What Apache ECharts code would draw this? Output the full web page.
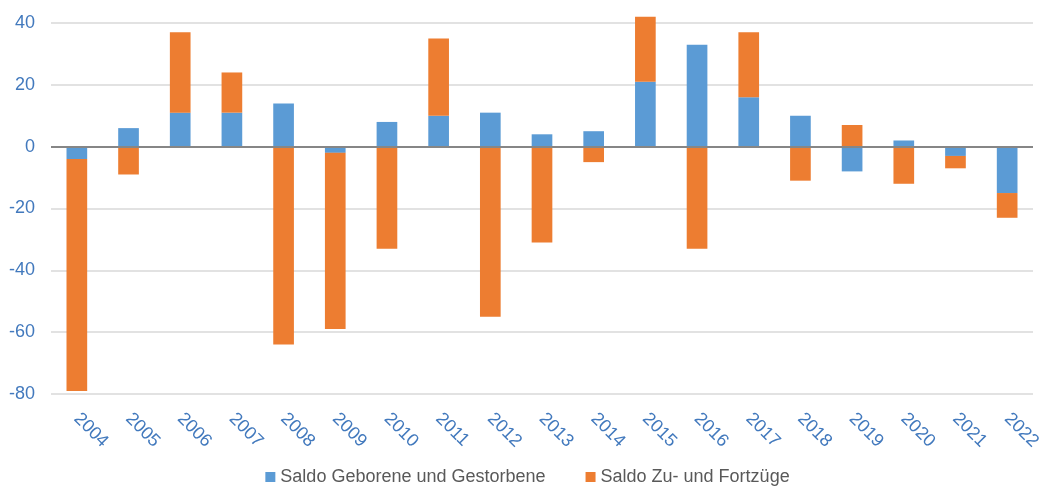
<!DOCTYPE html>
<html>
<head>
<meta charset="utf-8">
<script src="https://cdn.jsdelivr.net/npm/echarts@6/dist/echarts.min.js"></script>
<style>html,body{margin:0;padding:0;background:#fff}#c{width:1055px;height:488px}</style>
</head>
<body>
<div id="c"></div>
<script>
var categories = ['2004','2005','2006','2007','2008','2009','2010','2011','2012','2013','2014','2015','2016','2017','2018','2019','2020','2021','2022'];
var seriesNames = ['Saldo Geborene und Gestorbene', 'Saldo Zu- und Fortzüge'];
var geboreneGestorbene = [-4, 6, 11, 11, 14, -2, 8, 10, 11, 4, 5, 21, 33, 16, 10, -8, 2, -3, -15];
var zuFortzuege = [-75, -9, 26, 13, -64, -57, -33, 25, -55, -31, -5, 21, -33, 21, -11, 7, -12, -4, -8];
var yTicks = { min: -80, max: 40, interval: 20 };

var FONT = '"Liberation Sans", sans-serif';
var chart = echarts.init(document.getElementById('c'));
chart.setOption({
  animation: false,
  textStyle: { fontFamily: FONT },
  grid: { left: 51, right: 22, top: 23, bottom: 94 },
  legend: {
    bottom: -3,
    itemWidth: 10, itemHeight: 10, itemGap: 40,
    icon: 'rect',
    textStyle: { color: '#595959', fontSize: 18, fontFamily: FONT },
    data: seriesNames
  },
  xAxis: {
    type: 'category',
    data: categories,
    axisLine: { show: false },
    axisTick: { show: false },
    axisLabel: { rotate: -45, color: '#4279bd', fontSize: 18, margin: 22, fontFamily: FONT }
  },
  yAxis: {
    type: 'value',
    min: yTicks.min, max: yTicks.max, interval: yTicks.interval,
    axisLine: { show: false },
    axisTick: { show: false },
    axisLabel: { color: '#4279bd', fontSize: 18, margin: 16, fontFamily: FONT },
    splitLine: { lineStyle: { color: '#d9d9d9', width: 1.5 } }
  },
  series: [
    {
      name: seriesNames[0], type: 'bar', stack: 'total', barWidth: '40%', clip: false,
      itemStyle: { color: '#5b9bd5' },
      data: geboreneGestorbene,
      markLine: {
        silent: true, symbol: 'none', label: { show: false },
        lineStyle: { color: '#868686', width: 2, type: 'solid' },
        data: [{ yAxis: 0 }]
      }
    },
    {
      name: seriesNames[1], type: 'bar', stack: 'total', barWidth: '40%', clip: false,
      itemStyle: { color: '#ed7d31' },
      data: zuFortzuege
    }
  ]
});
</script>
</body>
</html>
